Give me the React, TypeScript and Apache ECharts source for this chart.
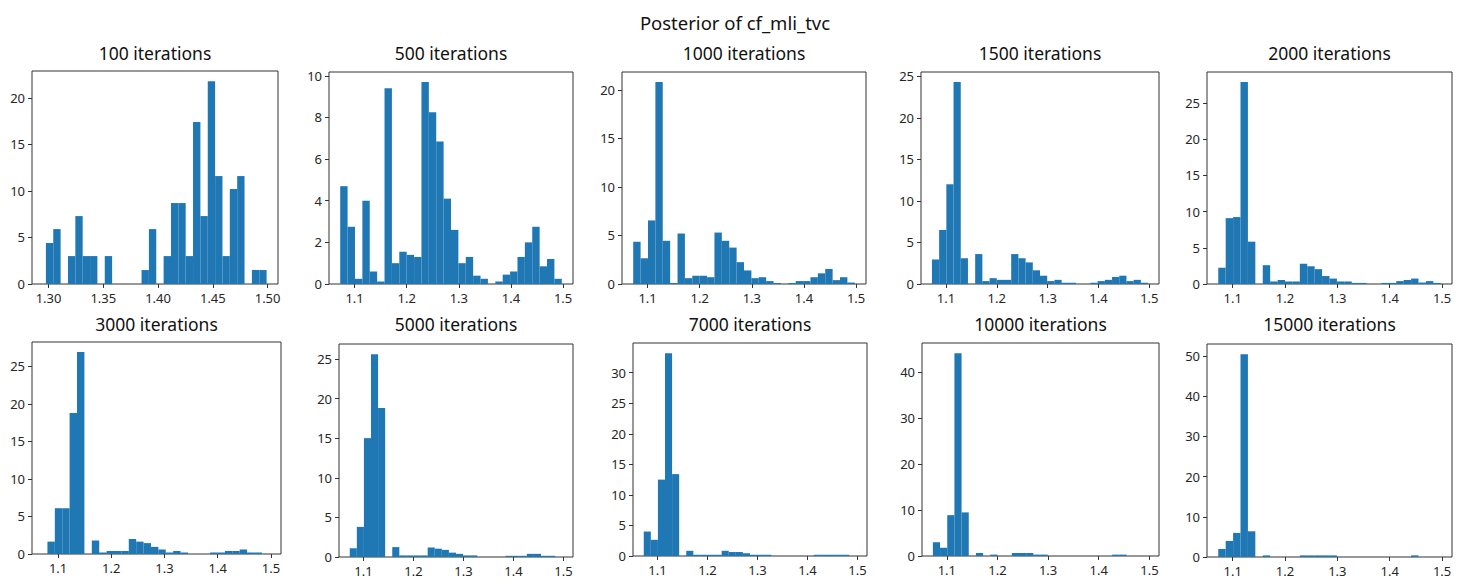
import React, { useEffect, useRef } from "react";
import * as echarts from "echarts";

const mainTitle = "Posterior of cf_mli_tvc";
const panelTitles = [
  "100 iterations", "500 iterations", "1000 iterations", "1500 iterations", "2000 iterations",
  "3000 iterations", "5000 iterations", "7000 iterations", "10000 iterations", "15000 iterations",
];

// histogram heights (30 bins each)
const counts100 = [4.4, 5.9, 0, 3.0, 7.3, 3.0, 3.0, 0, 3.0, 0, 0, 0, 0, 1.5, 5.9, 0, 3.0, 8.7, 8.7, 3.0, 17.4, 7.3, 21.8, 11.6, 3.0, 10.2, 11.6, 0, 1.5, 1.5];
const counts500 = [4.7, 2.75, 0.25, 4.0, 0.6, 0.12, 9.4, 1.0, 1.55, 1.4, 1.3, 9.7, 8.25, 6.85, 4.1, 2.6, 1.0, 1.3, 0.4, 0.25, 0, 0.12, 0.45, 0.6, 1.3, 2.0, 2.75, 0.85, 1.2, 0.25];
const counts1000 = [4.35, 2.65, 6.55, 20.8, 4.45, 0.1, 5.2, 0.6, 0.85, 0.85, 0.7, 5.3, 4.45, 3.75, 2.25, 1.4, 0.6, 0.7, 0.3, 0.1, 0, 0.1, 0.3, 0.3, 0.7, 1.1, 1.55, 0.4, 0.7, 0.15];
const counts1500 = [2.95, 6.5, 12.0, 24.3, 3.1, 0, 3.6, 0.35, 0.7, 0.5, 0.5, 3.6, 3.1, 2.6, 1.65, 1.0, 0.35, 0.5, 0.15, 0.15, 0, 0, 0.15, 0.35, 0.5, 0.85, 1.0, 0.35, 0.5, 0.15];
const counts2000 = [2.25, 9.1, 9.25, 27.9, 5.85, 0, 2.6, 0.35, 0.55, 0.35, 0.35, 2.8, 2.45, 2.05, 1.1, 0.75, 0.35, 0.35, 0.15, 0.15, 0, 0, 0.15, 0.15, 0.4, 0.55, 0.75, 0.2, 0.4, 0.15];
const counts3000 = [1.65, 6.1, 6.1, 18.8, 26.9, 0, 1.8, 0.2, 0.4, 0.4, 0.4, 2.0, 1.65, 1.45, 0.95, 0.6, 0.2, 0.4, 0.2, 0, 0, 0, 0.2, 0.2, 0.4, 0.4, 0.6, 0.2, 0.2, 0];
const counts5000 = [1.1, 3.8, 15.0, 25.6, 18.8, 0, 1.25, 0.2, 0.2, 0.2, 0.2, 1.2, 1.05, 0.9, 0.55, 0.4, 0.2, 0.2, 0, 0, 0, 0, 0.15, 0.15, 0.15, 0.4, 0.4, 0.15, 0.15, 0];
const counts7000 = [4.0, 2.65, 12.5, 33.2, 13.4, 0, 0.85, 0.2, 0.2, 0.2, 0.2, 0.85, 0.65, 0.65, 0.45, 0.2, 0.2, 0.2, 0, 0, 0, 0, 0, 0, 0.2, 0.2, 0.2, 0.2, 0.2, 0];
const counts10000 = [3.0, 1.8, 8.9, 44.2, 9.5, 0, 0.65, 0, 0.3, 0, 0, 0.65, 0.65, 0.65, 0.3, 0.3, 0, 0, 0, 0, 0, 0, 0, 0, 0, 0.3, 0.3, 0, 0, 0];
const counts15000 = [2.0, 4.0, 6.0, 50.5, 6.4, 0, 0.4, 0, 0, 0, 0, 0.4, 0.4, 0.4, 0.4, 0.4, 0, 0, 0, 0, 0, 0, 0, 0, 0, 0, 0.4, 0, 0, 0];

const allCounts = [counts100, counts500, counts1000, counts1500, counts2000, counts3000, counts5000, counts7000, counts10000, counts15000];

// bin ranges (first and last edge) and axis ranges
const binRange100 = [1.2976, 1.4991];
const binRangeLater = [1.0725, 1.4975];
const binRange3000 = [1.080, 1.497];
const xRange100 = [1.2849, 1.5095];
const xRangeLater = [1.051, 1.519];
const xTicks100 = [1.3, 1.35, 1.4, 1.45, 1.5];
const xTicksLater = [1.1, 1.2, 1.3, 1.4, 1.5];
const yTicks = [
  [0, 5, 10, 15, 20],
  [0, 2, 4, 6, 8, 10],
  [0, 5, 10, 15, 20],
  [0, 5, 10, 15, 20, 25],
  [0, 5, 10, 15, 20, 25],
  [0, 5, 10, 15, 20, 25],
  [0, 5, 10, 15, 20, 25],
  [0, 5, 10, 15, 20, 25, 30],
  [0, 10, 20, 30, 40],
  [0, 10, 20, 30, 40, 50],
];

// layout boxes [left, top, right, bottom]
const boxes = [
  [32, 71, 278, 284],
  [329, 72, 573, 284],
  [622, 72, 866, 284],
  [921, 72, 1159, 284],
  [1207, 72, 1452, 284],
  [32, 342, 281, 554],
  [339, 344, 573, 557],
  [633, 343, 867, 556],
  [922, 343, 1159, 556],
  [1207, 344, 1452, 557],
];

const FONT = "'Noto Sans', 'Open Sans', sans-serif";
const BAR = "#1f77b4";
const AXIS = "#333333";

export default function App() {
  const ref = useRef<HTMLDivElement>(null);
  useEffect(() => {
    if (!ref.current) return;
    const chart = echarts.init(ref.current, undefined, { renderer: "svg" });
    const grids: any[] = [];
    const xAxes: any[] = [];
    const yAxes: any[] = [];
    const series: any[] = [];
    const graphics: any[] = [];

    graphics.push({
      type: "text",
      x: 735,
      y: 22,
      style: { text: mainTitle, font: `18.5px ${FONT}`, fill: "#111", textAlign: "center", textVerticalAlign: "middle" },
    });

    allCounts.forEach((counts, i) => {
      const [l, t, r, b] = boxes[i];
      const first = i === 0;
      const bins = first ? binRange100 : i === 5 ? binRange3000 : binRangeLater;
      const xr = first ? xRange100 : xRangeLater;
      const xt = first ? xTicks100 : xTicksLater;
      const w = (bins[1] - bins[0]) / counts.length;
      const data = counts.map((c, k) => [bins[0] + k * w, bins[0] + (k + 1) * w, c]);
      const ymax = Math.max(...counts) * 1.05;

      grids.push({
        left: l, top: t, width: r - l, height: b - t,
        show: true, borderColor: AXIS, borderWidth: 1, backgroundColor: "transparent",
      });
      xAxes.push({
        type: "value", gridIndex: i, min: xr[0], max: xr[1],
        splitLine: { show: false },
        axisLine: { show: false },
        axisTick: { show: true, length: 4, inside: false, customValues: xt, lineStyle: { color: AXIS } },
        axisLabel: {
          customValues: xt, margin: 7, color: "#262626", fontSize: 13, fontFamily: FONT,
          formatter: (v: number) => (first ? v.toFixed(2) : v.toFixed(1)),
        },
      });
      yAxes.push({
        type: "value", gridIndex: i, min: 0, max: ymax,
        splitLine: { show: false },
        axisLine: { show: false },
        axisTick: { show: true, length: 4, inside: false, customValues: yTicks[i], lineStyle: { color: AXIS } },
        axisLabel: {
          customValues: yTicks[i], margin: 7, color: "#262626", fontSize: 13, fontFamily: FONT,
          formatter: (v: number) => String(Math.round(v)),
        },
      });
      series.push({
        type: "custom",
        xAxisIndex: i, yAxisIndex: i,
        encode: { x: [0, 1], y: 2 },
        data,
        renderItem: (_p: any, api: any) => {
          const h = api.value(2);
          if (!h) return null;
          const p0 = api.coord([api.value(0), h]);
          const p1 = api.coord([api.value(1), 0]);
          return {
            type: "rect",
            shape: { x: p0[0], y: p0[1], width: p1[0] - p0[0], height: p1[1] - p0[1] },
            style: { fill: BAR },
          };
        },
      });
      graphics.push({
        type: "text",
        x: (l + r) / 2,
        y: i < 5 ? 53 : 324,
        style: { text: panelTitles[i], font: `17.5px ${FONT}`, fill: "#111", textAlign: "center", textVerticalAlign: "middle" },
      });
    });

    chart.setOption({
      animation: false,
      backgroundColor: "#ffffff",
      grid: grids,
      xAxis: xAxes,
      yAxis: yAxes,
      series,
      graphic: graphics,
    });
    return () => chart.dispose();
  }, []);
  return (
    <div
      ref={ref}
      style={{ position: "fixed", left: 0, top: 0, width: 1465, height: 588, background: "#fff" }}
    />
  );
}
